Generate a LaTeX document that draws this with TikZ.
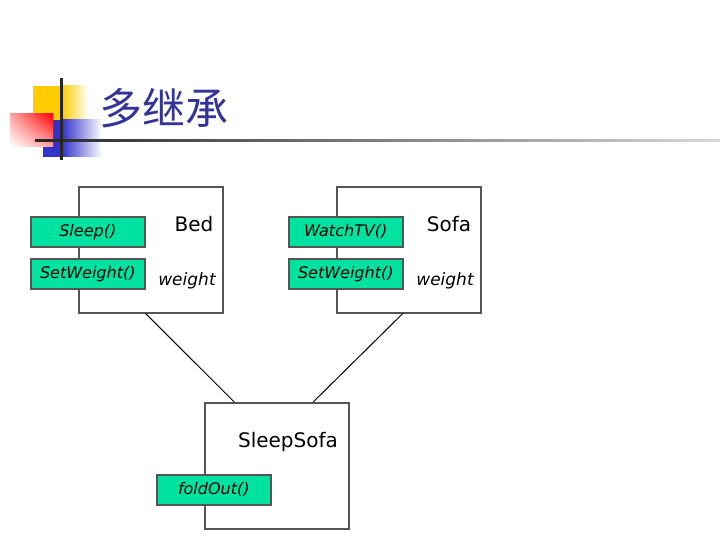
\documentclass[tikz,border=0pt]{standalone}
\usepackage{fontspec}
\setmainfont{DejaVu Sans}
\newfontfamily\cjk{Noto Sans CJK SC}
\usetikzlibrary{calc,shadings}
\definecolor{titleblue}{RGB}{51,51,153}
\definecolor{mint}{RGB}{0,226,160}
\definecolor{edge}{RGB}{85,85,85}
\definecolor{deco yellow}{RGB}{255,204,0}
\definecolor{deco blue}{RGB}{51,51,204}
\tikzset{
  classbox/.style={draw=edge, line width=1.6pt, fill=white, minimum width=144pt, minimum height=126pt, anchor=north west, inner sep=0pt},
  opbox/.style={draw=edge, line width=1.6pt, fill=mint, minimum width=114pt, minimum height=30pt, anchor=north west, inner sep=0pt, font=\fontsize{16}{18}\selectfont\itshape},
  classname/.style={font=\fontsize{20}{24}\selectfont, anchor=base, inner sep=0pt},
  attr/.style={font=\fontsize{17}{20}\selectfont\itshape, anchor=base, inner sep=0pt},
  link/.style={draw=black, line width=1pt}
}
\begin{document}
\begin{tikzpicture}[x=1pt,y=-1pt]
\useasboundingbox (0,0) rectangle (720,540);
% decoration
\fill[deco yellow] (33,86) rectangle (62,120);
\shade[left color=deco yellow, right color=white] (62,86) rectangle (88,120);
\fill[deco blue] (43,120) rectangle (62,157);
\shade[left color=deco blue, right color=white] (62,120) rectangle (102,157);
\shade[upper right=red, upper left=red!35, lower right=red!35, lower left=white] (10,114) rectangle (53,147);
\shade[left color=black!85, right color=black!15] (35,140) rectangle (720,142);
\fill[black!85] (60,78) rectangle (62.5,160);
\node[anchor=west, text=titleblue, font=\cjk\fontsize{43}{46}\selectfont, inner sep=0pt] (title) at (99,108) {多继承};
% classes
\node[classbox] (bed) at (78,186) {};
\node[classbox] (sofa) at (336,186) {};
\node[classbox] (sleepsofa) at (204,402) {};
\node[classname] (bedname) at (194,231) {Bed};
\node[classname] (sofaname) at (449,231) {Sofa};
\node[classname] (ssname) at (288,447) {SleepSofa};
\node[attr] (bedw) at (187,285) {weight};
\node[attr] (sofaw) at (445,285) {weight};
\node[opbox] (sleep) at (30,216) {Sleep()};
\node[opbox] (bedset) at (30,258) {SetWeight()};
\node[opbox] (watch) at (288,216) {WatchTV()};
\node[opbox] (sofaset) at (288,258) {SetWeight()};
\node[opbox] (fold) at (156,474) {foldOut()};
% links
\draw[link] ($(bed.south west)!0.465!(bed.south east)$) -- ($(sleepsofa.north west)!0.208!(sleepsofa.north east)$);
\draw[link] ($(sofa.south west)!0.458!(sofa.south east)$) -- ($(sleepsofa.north west)!0.75!(sleepsofa.north east)$);
\end{tikzpicture}
\end{document}
